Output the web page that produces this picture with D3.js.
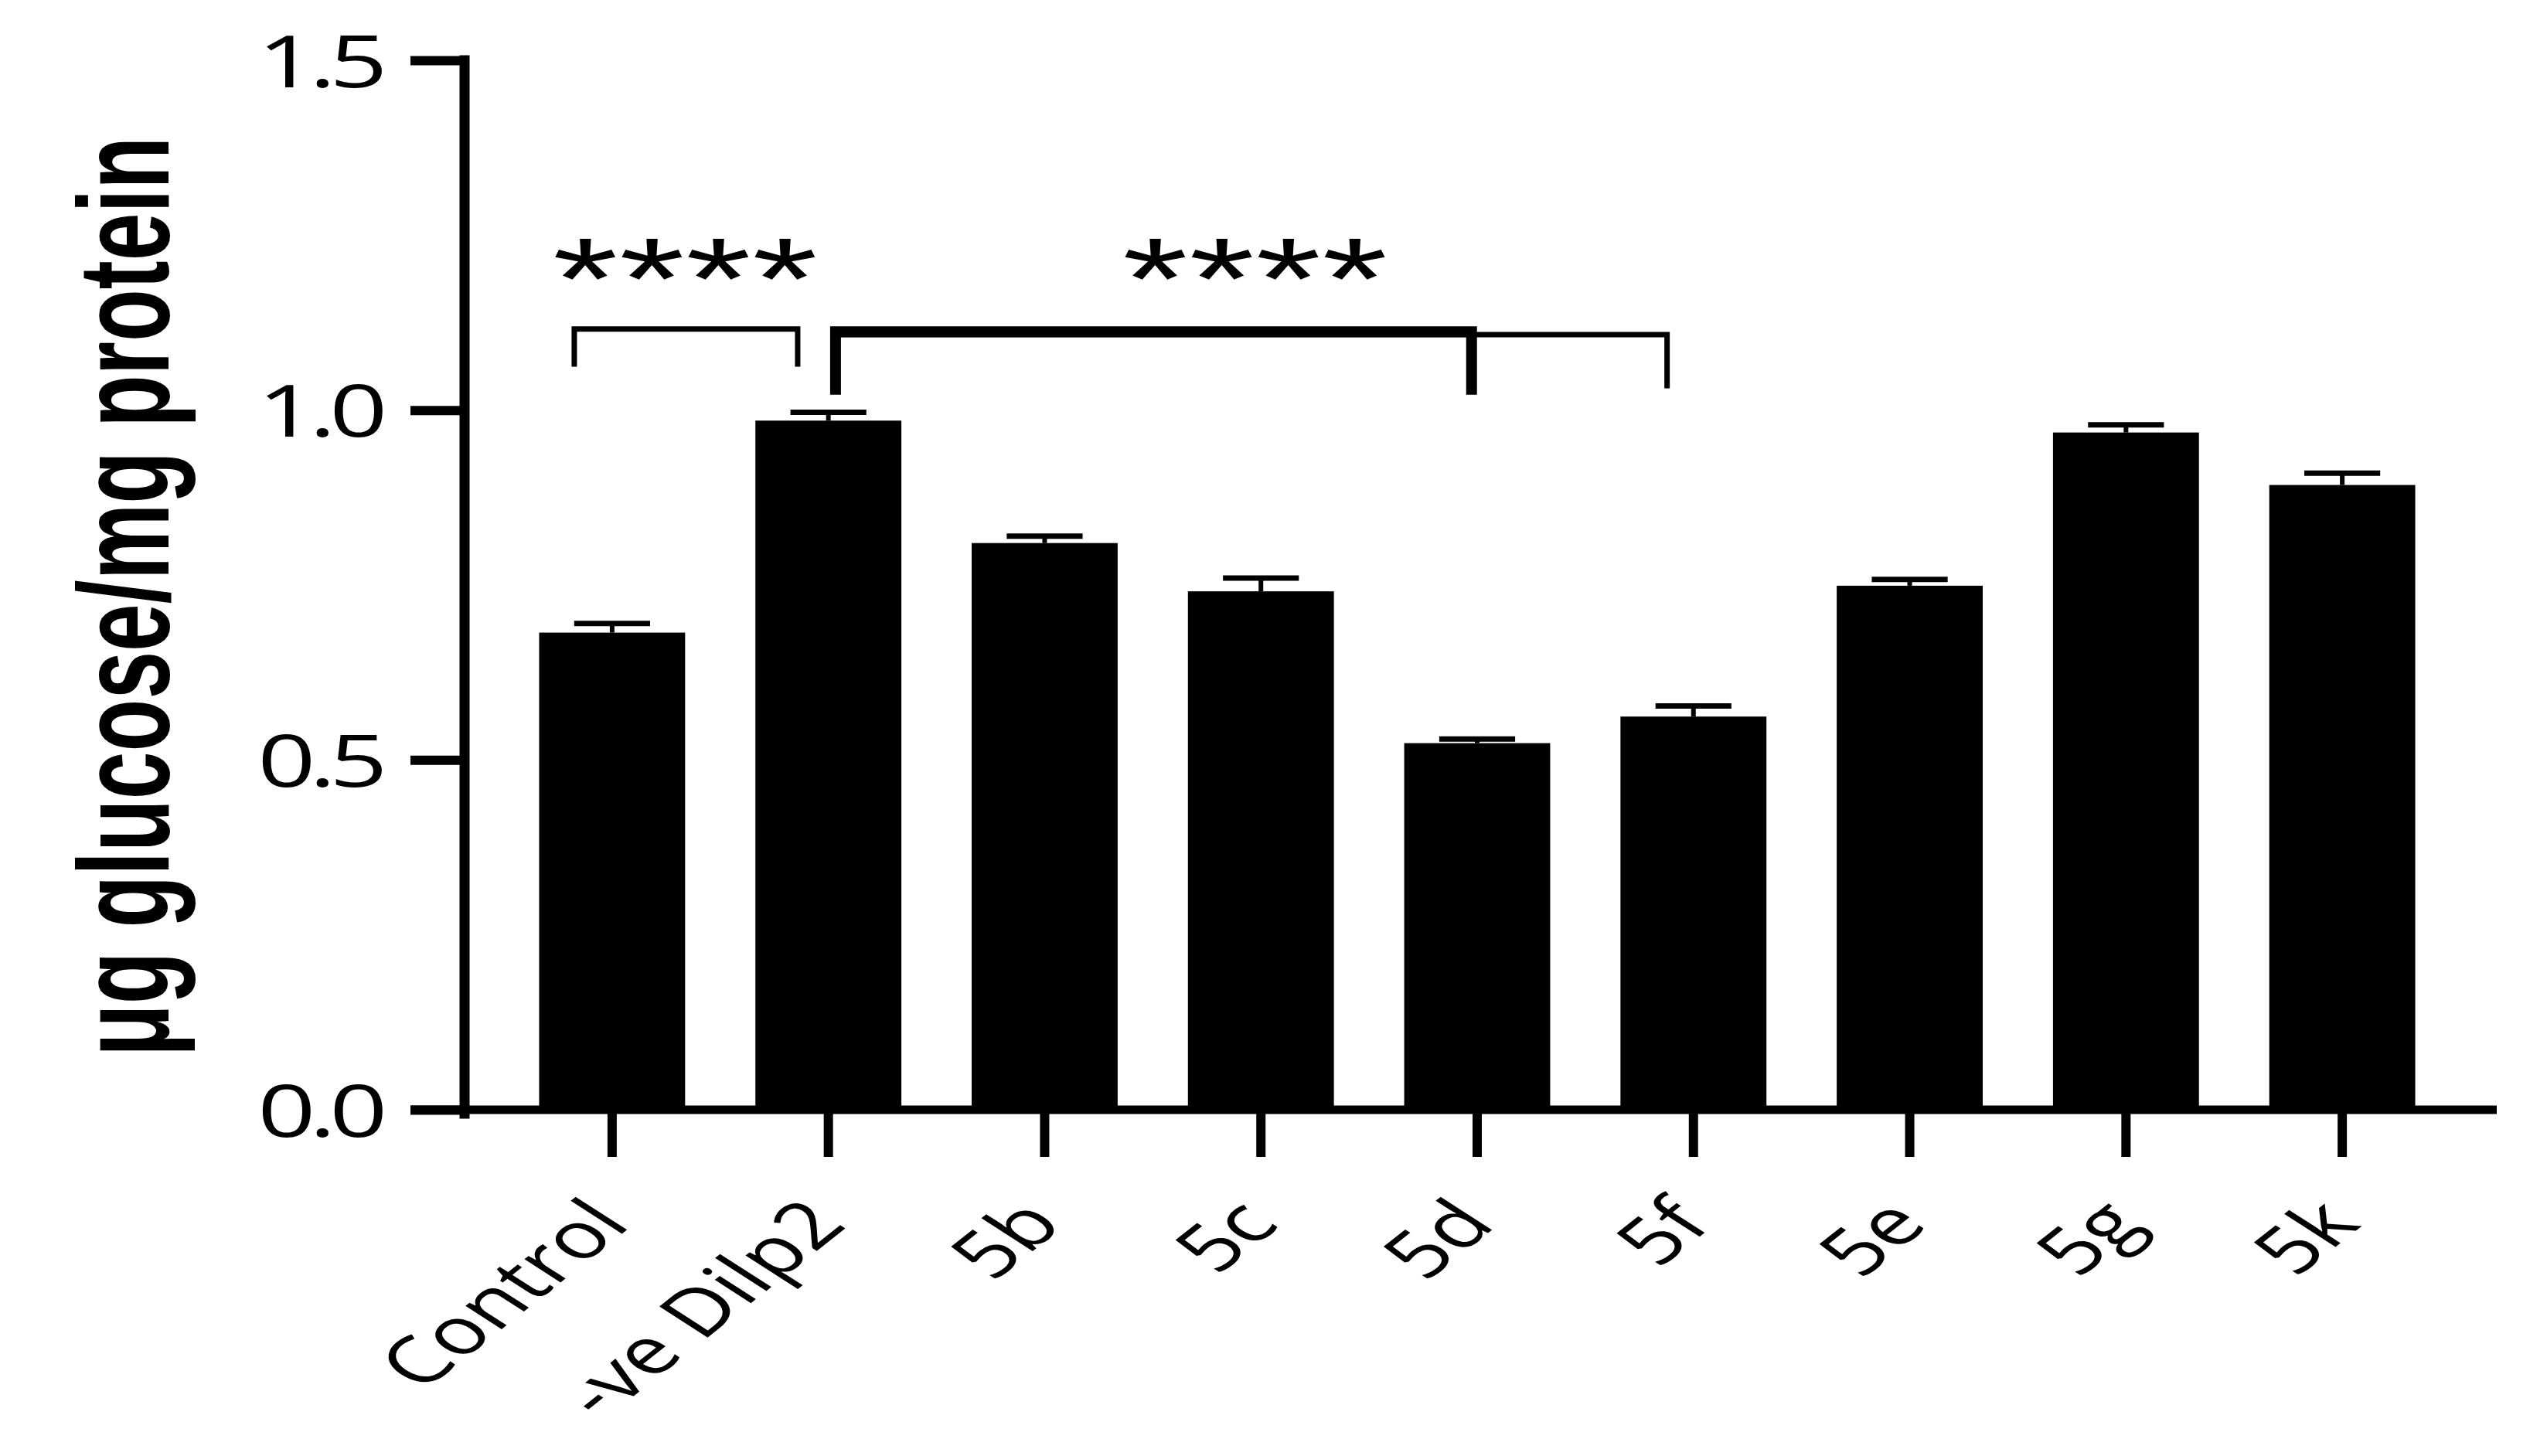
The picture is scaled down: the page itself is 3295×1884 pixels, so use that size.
<!DOCTYPE html>
<html>
<head>
<meta charset="utf-8">
<script src="https://cdn.jsdelivr.net/npm/d3@7"></script>
<style>
  html, body { margin: 0; padding: 0; background: #fff; }
  svg { display: block; }
  .axis path, .axis line { stroke: #000; }
  .tick-label { font-family: "Open Sans", "Noto Sans", sans-serif; fill: #000; }
</style>
</head>
<body>
<svg id="chart" width="3295" height="1884"></svg>
<script>
  // values
  var categories = ['Control', '-ve Dilp2', '5b', '5c', '5d', '5f', '5e', '5g', '5k'],
      means      = [0.682, 0.985, 0.810, 0.741, 0.524, 0.562, 0.749, 0.968, 0.893],
      sems       = [0.013, 0.012, 0.010, 0.019, 0.006, 0.015, 0.009, 0.011, 0.017],
      yTicks     = [0, 0.5, 1.0, 1.5],
      yTitle     = 'μg glucose/mg protein';

  // significance brackets, ends given as fractional category index
  var brackets = [
        { from: -0.175, to: 0.858, y: 1.116, legs: [1.062, 1.062], weight: 7 },
        { from: 1.033,  to: 4.878, y: 1.108, legs: [1.025, 1.031], weight: 7 },
        { from: 1.033,  to: 3.974, y: 1.112, legs: [1.022, 1.022], weight: 14 }
      ],
      stars = [
        { text: '****', at: 0.340, y: 1.239 },
        { text: '****', at: 2.975, y: 1.239 }
      ];

  var STRETCH = 1.4,      // the figure is widened horizontally, text too
      TICK_LEN = 70;

  var svg = d3.select('#chart'),

      x = d3.scaleBand()
        .domain(categories)
        .range([652, 3170])
        .paddingInner(0.325)
        .paddingOuter(0.1625),

      y = d3.scaleLinear()
        .domain([0, 1.5])
        .range([1436, 78]),

      xc = function(c) { return x(c) + x.bandwidth() / 2; },

      // fractional index -> pixel, for the annotations
      xi = d3.scaleLinear()
        .domain([0, categories.length - 1])
        .range([xc(categories[0]), xc(categories[categories.length - 1])]),

      axisX0 = 601;

  var data = categories.map(function(c, i) {
    return { cat: c, mean: means[i], sem: sems[i] };
  });

  // bars
  svg.append('g').selectAll('rect')
    .data(data)
    .enter().append('rect')
      .attr('x', function(d) { return x(d.cat); })
      .attr('y', function(d) { return y(d.mean); })
      .attr('width', x.bandwidth())
      .attr('height', function(d) { return y(0) - y(d.mean); })
      .attr('fill', '#000');

  // error bars (upper only)
  var err = svg.append('g').selectAll('g')
    .data(data)
    .enter().append('g');

  err.append('line')
    .attr('x1', function(d) { return xc(d.cat); })
    .attr('x2', function(d) { return xc(d.cat); })
    .attr('y1', function(d) { return y(d.mean); })
    .attr('y2', function(d) { return y(d.mean + d.sem); })
    .attr('stroke', '#000')
    .attr('stroke-width', 6);

  err.append('line')
    .attr('x1', function(d) { return xc(d.cat) - x.bandwidth() * 0.26; })
    .attr('x2', function(d) { return xc(d.cat) + x.bandwidth() * 0.26; })
    .attr('y1', function(d) { return y(d.mean + d.sem); })
    .attr('y2', function(d) { return y(d.mean + d.sem); })
    .attr('stroke', '#000')
    .attr('stroke-width', 7);

  // y axis
  var yAxis = svg.append('g')
    .attr('class', 'axis')
    .attr('transform', 'translate(' + axisX0 + ',0)')
    .call(d3.axisLeft(y).tickValues(yTicks).tickSize(TICK_LEN).tickSizeOuter(0));

  yAxis.select('.domain')
    .attr('d', 'M0,' + (y(0) + 5) + 'V' + y(1.5))
    .attr('stroke-width', 13)
    .attr('stroke-linecap', 'square');
  yAxis.selectAll('.tick line').attr('stroke-width', 12);
  yAxis.selectAll('.tick text').remove();
  yAxis.selectAll('.tick').append('text')
    .attr('class', 'tick-label')
    .attr('text-anchor', 'end')
    .attr('transform', 'translate(-108,34) scale(' + STRETCH + ',1)')
    .style('font-size', '94px')
    .style('letter-spacing', '-6px')
    .text(d3.format('.1f'));

  // x axis
  var xAxis = svg.append('g')
    .attr('class', 'axis')
    .attr('transform', 'translate(0,' + y(0) + ')')
    .call(d3.axisBottom(x).tickSize(61).tickSizeOuter(0));

  xAxis.select('.domain')
    .attr('d', 'M' + (axisX0 - TICK_LEN) + ',0H' + (x.range()[1] + 60))
    .attr('stroke-width', 11);
  xAxis.selectAll('.tick line').attr('stroke-width', 12);
  xAxis.selectAll('.tick text').remove();
  xAxis.selectAll('.tick').append('text')
    .attr('class', 'tick-label')
    .attr('text-anchor', 'end')
    .attr('transform', 'translate(26,150) scale(' + STRETCH + ',1) rotate(-48)')
    .style('font-size', '84px')
    .text(function(d) { return d; });

  // y title
  svg.append('text')
    .attr('transform', 'translate(160,772) scale(1.5,1) rotate(-90)')
    .attr('text-anchor', 'middle')
    .attr('dominant-baseline', 'central')
    .style('font-family', '"Liberation Sans", Arial, sans-serif')
    .style('font-weight', 'bold')
    .style('font-size', '111px')
    .text(yTitle);

  // brackets
  svg.append('g').selectAll('path')
    .data(brackets)
    .enter().append('path')
      .attr('d', function(b) {
        return 'M' + xi(b.from) + ',' + y(b.legs[0]) +
               'V' + y(b.y) + 'H' + xi(b.to) + 'V' + y(b.legs[1]);
      })
      .attr('fill', 'none')
      .attr('stroke', '#000')
      .attr('stroke-width', function(b) { return b.weight; });

  // stars
  svg.append('g').selectAll('text')
    .data(stars)
    .enter().append('text')
      .attr('transform', function(s) {
        return 'translate(' + xi(s.at) + ',' + (y(s.y) + 99) + ') scale(1.45,1)';
      })
      .attr('text-anchor', 'middle')
      .style('font-family', '"Liberation Sans", Arial, sans-serif')
      .style('font-size', '150px')
      .style('letter-spacing', '1px')
      .text(function(s) { return s.text; });
</script>
</body>
</html>
